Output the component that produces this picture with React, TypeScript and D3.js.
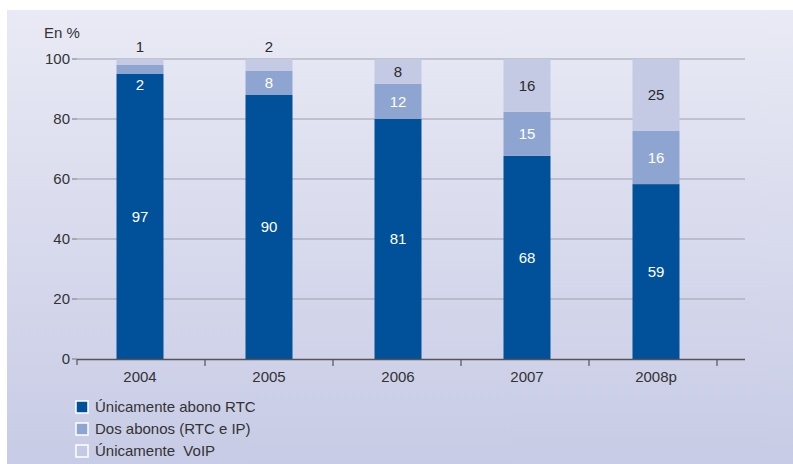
import React from "react";
import * as d3 from "d3";

const years = ["2004", "2005", "2006", "2007", "2008p"];
// labels printed on the chart
const rtcOnly = [97, 90, 81, 68, 59];
const both = [2, 8, 12, 15, 16];
const voipOnly = [1, 2, 8, 16, 25];
// segment heights as drawn in the picture (%)
const rtcOnlyBar = [95, 88, 80, 67.7, 58.3];
const bothBar = [3, 8, 11.7, 14.7, 17.8];
const voipOnlyBar = [2, 4, 8.3, 17.6, 23.9];
const yTicks = [0, 20, 40, 60, 80, 100];
const seriesNames = ["Únicamente abono RTC", "Dos abonos (RTC e IP)", "Únicamente  VoIP"];
const colors = ["#00519a", "#8fa5d1", "#c4cae4"];
const labelColors = ["#ffffff", "#ffffff", "#2a2a2a"];

const W = 793;
const H = 464;
const FONT = "'Liberation Sans', Arial, sans-serif";

export default function App() {
  const keys = ["a", "b", "c"];
  const rows = years.map((y, i) => ({ year: y, a: rtcOnlyBar[i], b: bothBar[i], c: voipOnlyBar[i] }));
  const raw = [rtcOnly, both, voipOnly];
  const stacked = d3.stack<any>().keys(keys).offset(d3.stackOffsetExpand)(rows);

  const x = d3.scaleBand<string>().domain(years).range([75.5, 720.5]);
  const xTicks = d3.scaleBand<string>().domain(years).range([77, 717]);
  const y = d3.scaleLinear().domain([0, 1]).range([359, 59]);
  const yAxis = d3.scaleLinear().domain([0, 100]).range([359, 59]);
  const barW = 47;

  return (
    <svg width={W} height={H} style={{ position: "absolute", left: 0, top: 0 }}>
      <defs>
        <linearGradient id="bg" x1="0" y1="0" x2="0" y2="1">
          <stop offset="0" stopColor="#e9eaf5" />
          <stop offset="1" stopColor="#c7cbe5" />
        </linearGradient>
      </defs>
      <rect x={7} y={10} width={W - 7} height={H - 10} fill="url(#bg)" />
      {yTicks.filter((t) => t > 0).map((t) => (
        <line key={t} x1={77} x2={745} y1={yAxis(t)} y2={yAxis(t)} stroke="#9fa0a8" strokeWidth={1.2} />
      ))}
      {stacked.map((s, si) =>
        s.map((d, i) => {
          const bx = (x(years[i]) as number) + x.bandwidth() / 2 - barW / 2;
          return (
            <rect key={si + "-" + i} x={bx} y={y(d[1])} width={barW} height={y(d[0]) - y(d[1])} fill={colors[si]} />
          );
        })
      )}
      {stacked.map((s, si) =>
        s.map((d, i) => {
          const cx = (x(years[i]) as number) + x.bandwidth() / 2;
          let ly = (y(d[0]) + y(d[1])) / 2;
          const h = y(d[0]) - y(d[1]);
          if (si === 2 && h < 18) ly = y(1) - 12;
          if (si === 1 && h < 18) ly = y(d[0]) + 11;
          return (
            <text key={"l" + si + "-" + i} x={cx} y={ly} dy="0.35em" textAnchor="middle" fontFamily={FONT} fontSize={15} fill={labelColors[si]}>
              {raw[si][i]}
            </text>
          );
        })
      )}
      <line x1={77} x2={77} y1={359} y2={365} stroke="#555" strokeWidth={1.2} />
      {yTicks.map((t) => (
        <g key={"yt" + t}>
          <line x1={72} x2={77} y1={yAxis(t)} y2={yAxis(t)} stroke="#777" strokeWidth={1} />
          <text x={70} y={yAxis(t)} dy="0.35em" textAnchor="end" fontFamily={FONT} fontSize={15} fill="#333">
            {t}
          </text>
        </g>
      ))}
      <text x={44} y={33} dy="0.35em" fontFamily={FONT} fontSize={15} fill="#333">En %</text>
      <line x1={77} x2={745} y1={359.5} y2={359.5} stroke="#555" strokeWidth={1.4} />
      {years.map((yr) => {
        const tx = (xTicks(yr) as number) + xTicks.bandwidth();
        return <line key={"xt" + yr} x1={tx} x2={tx} y1={359} y2={366} stroke="#555" strokeWidth={1.2} />;
      })}
      {years.map((yr) => (
        <text key={"xl" + yr} x={(x(yr) as number) + x.bandwidth() / 2} y={377} dy="0.35em" textAnchor="middle" fontFamily={FONT} fontSize={15} fill="#333">
          {yr}
        </text>
      ))}
      {seriesNames.map((n, i) => (
        <g key={"lg" + i} transform={`translate(76, ${401 + i * 22})`}>
          <rect x={0} y={0} width={12} height={12} fill={colors[i]} stroke="#ffffff" strokeWidth={1.5} />
          <text x={19} y={6} dy="0.35em" fontFamily={FONT} fontSize={15} fill="#333" style={{ whiteSpace: "pre" }}>
            {n}
          </text>
        </g>
      ))}
    </svg>
  );
}
